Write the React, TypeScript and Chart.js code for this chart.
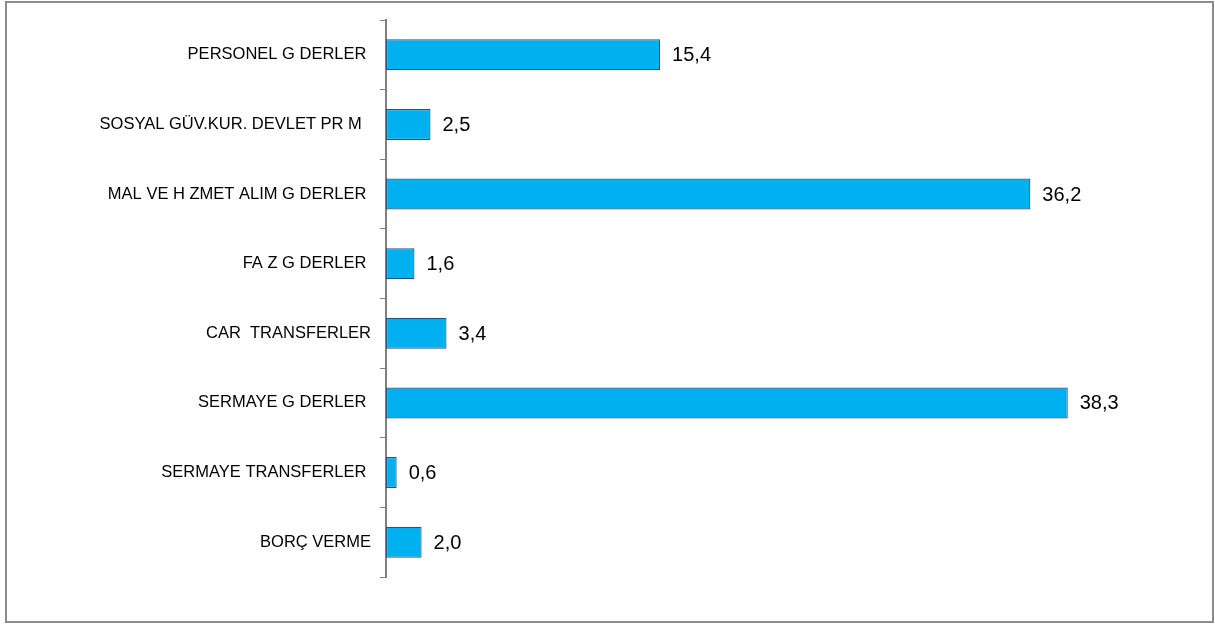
import React, { useEffect, useRef } from "react";
import { Chart, registerables } from "chart.js";

Chart.register(...registerables);

const CATEGORIES: string[] = [
  "PERSONEL G DERLER ",
  "SOSYAL GÜV.KUR. DEVLET PR M  ",
  "MAL VE H ZMET ALIM G DERLER ",
  "FA Z G DERLER ",
  "CAR  TRANSFERLER",
  "SERMAYE G DERLER ",
  "SERMAYE TRANSFERLER ",
  "BORÇ VERME",
];

const VALUES: number[] = [15.4, 2.5, 36.2, 1.6, 3.4, 38.3, 0.6, 2.0];

const X_MIN = 0;
const X_MAX = 45;

const FONT = "'Liberation Sans', Arial, sans-serif";

const valueLabelPlugin = {
  id: "valueLabels",
  afterDatasetsDraw(chart: any) {
    const ctx = chart.ctx;
    const meta = chart.getDatasetMeta(0);
    ctx.save();
    ctx.font = `20px ${FONT}`;
    ctx.fillStyle = "#000";
    ctx.textAlign = "left";
    ctx.textBaseline = "middle";
    meta.data.forEach((bar: any, i: number) => {
      const v = VALUES[i];
      ctx.fillText(v.toFixed(1).replace(".", ","), bar.x + 12, bar.y + 1);
    });
    ctx.restore();
  },
};

export default function App() {
  const canvasRef = useRef<HTMLCanvasElement | null>(null);

  useEffect(() => {
    if (!canvasRef.current) return;
    const chart = new Chart(canvasRef.current, {
      type: "bar",
      data: {
        labels: CATEGORIES,
        datasets: [
          {
            data: VALUES,
            backgroundColor: "#00B0F0",
            borderColor: "#24558A",
            borderWidth: 1.2,
            borderSkipped: false,
            barPercentage: 0.445,
            categoryPercentage: 1,
          },
        ],
      },
      plugins: [valueLabelPlugin],
      options: {
        indexAxis: "y",
        responsive: false,
        animation: false,
        layout: { padding: { left: 0, top: 20, right: 28, bottom: 47 } },
        plugins: {
          legend: { display: false },
          tooltip: { enabled: false },
        },
        scales: {
          x: { display: false, min: X_MIN, max: X_MAX },
          y: {
            afterFit(scale: any) {
              scale.width = 386;
            },
            grid: {
              offset: true,
              drawOnChartArea: false,
              drawTicks: true,
              tickLength: 6,
              color: "#808080",
              lineWidth: 1,
            },
            border: { display: true, color: "#808080", width: 2 },
            ticks: {
              color: "#000",
              font: { family: FONT, size: 16.5 },
              padding: 9,
              autoSkip: false,
            },
          },
        },
      } as any,
    });
    return () => chart.destroy();
  }, []);

  return (
    <div style={{ position: "absolute", left: 0, top: 0, width: 1215, height: 624, background: "#fff" }}>
      <div
        style={{
          position: "absolute",
          left: 5,
          top: 1,
          width: 1209,
          height: 622,
          border: "2px solid #8c8c8c",
          boxSizing: "border-box",
        }}
      />
      <canvas
        ref={canvasRef}
        width={1215}
        height={624}
        style={{ position: "absolute", left: 0, top: 0, width: 1215, height: 624 }}
      />
    </div>
  );
}
